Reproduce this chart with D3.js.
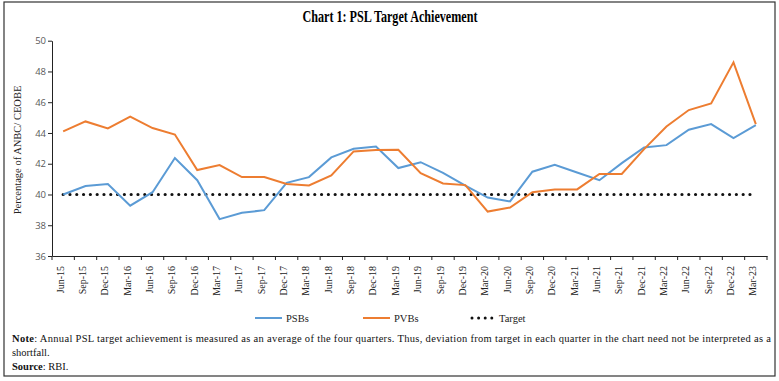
<!DOCTYPE html>
<html>
<head>
<meta charset="utf-8">
<script src="https://cdn.jsdelivr.net/npm/d3@7"></script>
<style>
  body { margin: 0; background: #fff; }
  svg { display: block; }
</style>
</head>
<body>
<script>
const width = 779;
const height = 381;

const quarters = [
  "Jun-15", "Sep-15", "Dec-15", "Mar-16", "Jun-16", "Sep-16", "Dec-16", "Mar-17",
  "Jun-17", "Sep-17", "Dec-17", "Mar-18", "Jun-18", "Sep-18", "Dec-18", "Mar-19",
  "Jun-19", "Sep-19", "Dec-19", "Mar-20", "Jun-20", "Sep-20", "Dec-20", "Mar-21",
  "Jun-21", "Sep-21", "Dec-21", "Mar-22", "Jun-22", "Sep-22", "Dec-22", "Mar-23"
];

const psbs = [
  40.0, 40.55, 40.68, 39.27, 40.15, 42.37, 40.93, 38.4,
  38.81, 38.98, 40.76, 41.13, 42.41, 42.97, 43.12, 41.72,
  42.1, 41.41, 40.57, 39.8, 39.55, 41.48, 41.93, 41.43,
  40.93, 42.04, 43.06, 43.21, 44.21, 44.58, 43.67, 44.51
];

const pvbs = [
  44.1, 44.75, 44.3, 45.06, 44.32, 43.9, 41.59, 41.91,
  41.13, 41.13, 40.68, 40.59, 41.24, 42.8, 42.89, 42.91,
  41.39, 40.72, 40.61, 38.89, 39.15, 40.15, 40.33, 40.33,
  41.33, 41.33, 42.95, 44.42, 45.49, 45.92, 48.59, 44.58
];

const target = quarters.map(() => 40);

const yTicks = [36, 38, 40, 42, 44, 46, 48, 50];

const series = [
  { name: "PSBs", values: psbs, color: "#5b9bd5" },
  { name: "PVBs", values: pvbs, color: "#ed7d31" }
];

const serif = "'Liberation Serif', 'DejaVu Serif', serif";

const svg = d3
  .select("body")
  .append("svg")
  .attr("width", width)
  .attr("height", height);

// outer frame
svg
  .append("rect")
  .attr("x", 4)
  .attr("y", 2)
  .attr("width", 771)
  .attr("height", 374)
  .attr("fill", "none")
  .attr("stroke", "#333")
  .attr("stroke-width", 1.2);

svg
  .append("text")
  .attr("x", 390)
  .attr("y", 22)
  .attr("text-anchor", "middle")
  .attr("font-family", serif)
  .attr("font-weight", "bold")
  .attr("font-size", 17)
  .attr("textLength", 175)
  .attr("lengthAdjust", "spacingAndGlyphs")
  .text("Chart 1: PSL Target Achievement");

const x = d3.scaleBand().domain(quarters).range([52, 767]);
const y = d3.scaleLinear().domain([36, 50]).range([256, 40.7]);

const xAt = (i) => x(quarters[i]) + x.bandwidth() / 2;

// y axis
const yAxis = svg
  .append("g")
  .attr("transform", "translate(52,0)")
  .call(d3.axisLeft(y).tickValues(yTicks).tickSize(4).tickSizeOuter(0));
yAxis.select(".domain").attr("stroke", "#222");
yAxis.selectAll(".tick line").attr("stroke", "#222");
yAxis
  .selectAll(".tick text")
  .attr("font-family", "'Open Sans', 'DejaVu Sans', sans-serif")
  .attr("font-size", 9.5)
  .attr("fill", "#595959")
  .attr("x", -6);

// x axis: ticks on band edges
const xAxis = svg
  .append("g")
  .attr("transform", "translate(0,256)")
  .call(d3.axisBottom(x).tickSize(0).tickSizeOuter(0));
xAxis.select(".domain").attr("stroke", "#222");
xAxis
  .selectAll(".tick text")
  .attr("font-family", serif)
  .attr("font-size", 10)
  .attr("fill", "#222")
  .attr("transform", "rotate(-90)")
  .attr("text-anchor", "end")
  .attr("x", -10)
  .attr("y", -3)
  .attr("dy", "0.35em");

const edges = quarters.map((q) => x(q)).concat([767]);
svg
  .append("g")
  .selectAll("line")
  .data(edges)
  .join("line")
  .attr("x1", (d) => d)
  .attr("x2", (d) => d)
  .attr("y1", 256)
  .attr("y2", 260)
  .attr("stroke", "#222");

svg
  .append("text")
  .attr("transform", "translate(21,150) rotate(-90)")
  .attr("text-anchor", "middle")
  .attr("font-family", serif)
  .attr("font-size", 10.5)
  .attr("fill", "#222")
  .text("Percentage of ANBC/ CEOBE");

const line = d3
  .line()
  .x((d, i) => xAt(i))
  .y((d) => y(d));

svg
  .append("path")
  .datum(target)
  .attr("d", line)
  .attr("fill", "none")
  .attr("stroke", "#111")
  .attr("stroke-width", 3.2)
  .attr("stroke-linecap", "round")
  .attr("stroke-dasharray", "0,6.8");

series.forEach((s) => {
  svg
    .append("path")
    .datum(s.values)
    .attr("d", line)
    .attr("fill", "none")
    .attr("stroke", s.color)
    .attr("stroke-width", 2);
});

// legend
const legend = svg.append("g").attr("font-family", serif).attr("font-size", 10.5);
const legendItems = [
  { name: "PSBs", x0: 255, color: "#5b9bd5" },
  { name: "PVBs", x0: 363, color: "#ed7d31" }
];
legendItems.forEach((d) => {
  legend
    .append("line")
    .attr("x1", d.x0)
    .attr("x2", d.x0 + 27)
    .attr("y1", 318)
    .attr("y2", 318)
    .attr("stroke", d.color)
    .attr("stroke-width", 2);
  legend
    .append("text")
    .attr("x", d.x0 + 31)
    .attr("y", 321.5)
    .attr("fill", "#222")
    .text(d.name);
});
legend
  .append("line")
  .attr("x1", 472)
  .attr("x2", 498)
  .attr("y1", 318)
  .attr("y2", 318)
  .attr("stroke", "#111")
  .attr("stroke-width", 3)
  .attr("stroke-linecap", "round")
  .attr("stroke-dasharray", "0,6.6");
legend
  .append("text")
  .attr("x", 499)
  .attr("y", 321.5)
  .attr("fill", "#222")
  .text("Target");

// notes
const notes = svg.append("g").attr("font-family", serif).attr("font-size", 10.5).attr("fill", "#111");
const note1 = notes
  .append("text")
  .attr("x", 12)
  .attr("y", 342)
  .attr("textLength", 759)
  .attr("lengthAdjust", "spacing");
note1.append("tspan").attr("font-weight", "bold").text("Note");
note1
  .append("tspan")
  .text(
    ": Annual PSL target achievement is measured as an average of the four quarters. Thus, deviation from target in each quarter in the chart need not be interpreted as a"
  );
notes.append("text").attr("x", 12).attr("y", 356).text("shortfall.");
const src = notes.append("text").attr("x", 12).attr("y", 370);
src.append("tspan").attr("font-weight", "bold").text("Source");
src.append("tspan").text(": RBI.");
</script>
</body>
</html>
